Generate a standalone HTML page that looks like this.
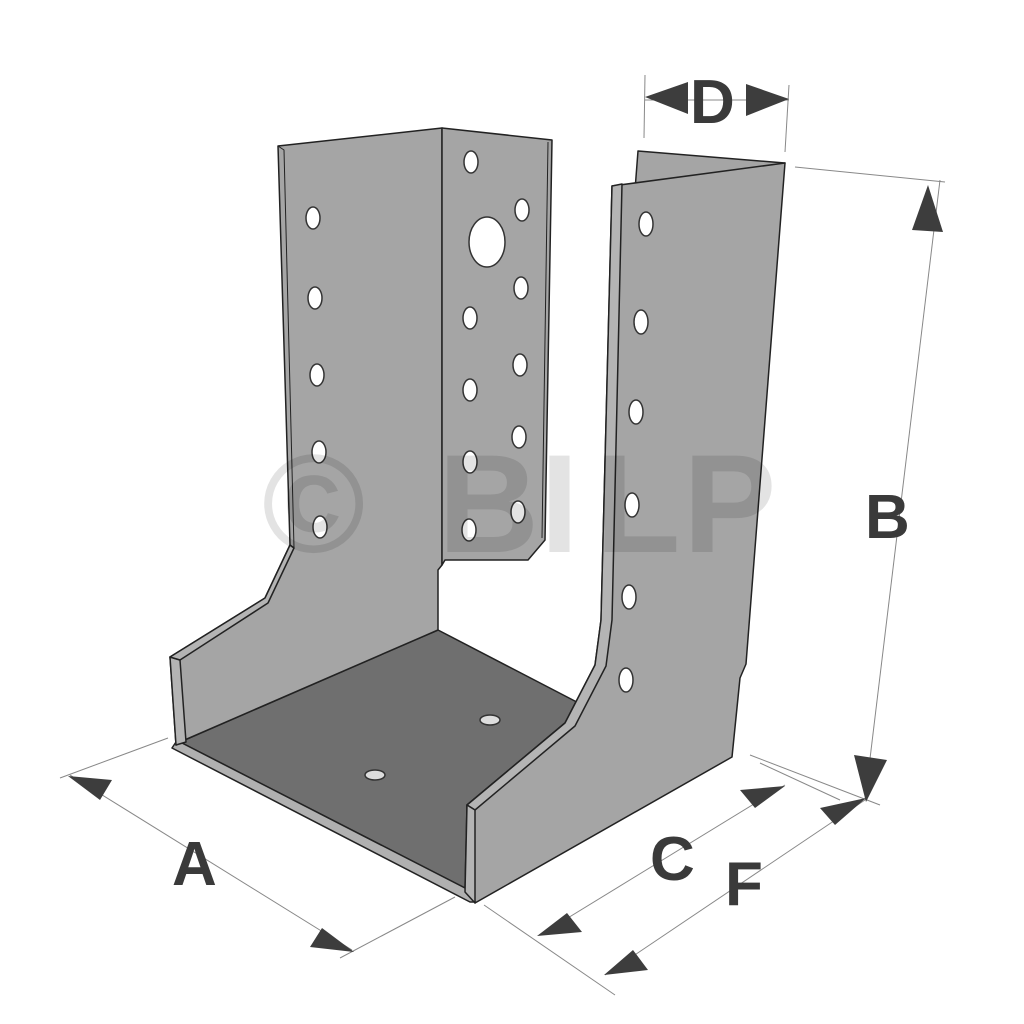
<!DOCTYPE html>
<html><head><meta charset="utf-8"><style>html,body{margin:0;padding:0;background:#fff}svg{display:block}</style></head>
<body>
<svg width="1024" height="1024" viewBox="0 0 1024 1024" xmlns="http://www.w3.org/2000/svg">
<g stroke="#222" stroke-width="1.5" stroke-linejoin="round">
<!-- floor -->
<polygon points="438,630 596,712 565,723 467,805 465,888 180,742" fill="#6f6f6f"/>
<!-- front lip strip -->
<polygon points="176,742 180,742 465,888 475,902 470,902 172,748" fill="#b0b0b0"/>
<!-- left wall -->
<polygon points="278,146 442,128 442,565 438,570 438,630 180,742 176,745 170,657 265,598 290,545" fill="#a5a5a5"/>
<polygon points="170,657 180,660 186,742 176,745" fill="#b4b4b4"/>
<polygon points="170,657 265,598 290,545 294,548 268,603 180,660" fill="#b4b4b4"/>
<polyline points="278,146 284,150 294,548" fill="none" stroke-width="1"/>
<!-- flap -->
<polygon points="442,128 552,140 545,540 528,560 445,560 442,565" fill="#a5a5a5"/>
<polyline points="548,142 542,538" fill="none" stroke-width="1"/>
<!-- right wall back flap -->
<polygon points="638,151 785,163 770,166 635,190" fill="#a5a5a5"/>
<!-- right wall -->
<polygon points="612,186 785,163 746,664 740,678 732,757 475,903 467,805 565,723 595,665 601,620" fill="#a5a5a5"/>
<polygon points="612,186 622,184 612,620 606,666 575,726 475,810 467,805 565,723 595,665 601,620" fill="#b4b4b4"/>
<polygon points="467,805 475,810 475,903 465,892" fill="#b4b4b4"/>
</g>
<!-- holes -->
<g fill="#fff" stroke="#333" stroke-width="1.5">
<ellipse cx="313" cy="218" rx="7" ry="11"/><ellipse cx="315" cy="298" rx="7" ry="11"/><ellipse cx="317" cy="375" rx="7" ry="11"/><ellipse cx="319" cy="452" rx="7" ry="11"/><ellipse cx="320" cy="527" rx="7" ry="11"/>
<ellipse cx="471" cy="162" rx="7" ry="11"/><ellipse cx="522" cy="210" rx="7" ry="11"/><ellipse cx="487" cy="242" rx="18" ry="25"/><ellipse cx="521" cy="288" rx="7" ry="11"/><ellipse cx="470" cy="318" rx="7" ry="11"/><ellipse cx="520" cy="365" rx="7" ry="11"/><ellipse cx="470" cy="390" rx="7" ry="11"/><ellipse cx="519" cy="437" rx="7" ry="11"/><ellipse cx="470" cy="462" rx="7" ry="11"/><ellipse cx="518" cy="512" rx="7" ry="11"/><ellipse cx="469" cy="530" rx="7" ry="11"/>
<ellipse cx="646" cy="224" rx="7" ry="12"/><ellipse cx="641" cy="322" rx="7" ry="12"/><ellipse cx="636" cy="412" rx="7" ry="12"/><ellipse cx="632" cy="505" rx="7" ry="12"/><ellipse cx="629" cy="597" rx="7" ry="12"/><ellipse cx="626" cy="680" rx="7" ry="12"/>
<ellipse cx="490" cy="720" rx="10" ry="5" fill="#ddd"/><ellipse cx="375" cy="775" rx="10" ry="5" fill="#ddd"/>
</g>
<!-- watermark -->
<g font-family="Liberation Sans, sans-serif" font-weight="bold" font-size="140" fill="#000" fill-opacity="0.11">
<text x="262" y="552">©</text><text x="438" y="552">B</text><text x="540" y="552">I</text><text x="595" y="552">L</text><text x="683" y="552">P</text>
</g>
<!-- dimension lines -->
<g stroke="#888" stroke-width="1" fill="none">
<line x1="645" y1="75" x2="644" y2="138"/><line x1="789" y1="85" x2="785" y2="152"/><line x1="645" y1="100" x2="789" y2="100"/>
<line x1="795" y1="167" x2="945" y2="182"/><line x1="940" y1="180" x2="865" y2="800"/><line x1="750" y1="755" x2="880" y2="805"/><line x1="760" y1="763" x2="840" y2="800"/>
<line x1="60" y1="778" x2="168" y2="738"/><line x1="70" y1="775" x2="352" y2="950"/><line x1="340" y1="958" x2="455" y2="897"/>
<line x1="484" y1="905" x2="615" y2="995"/><line x1="540" y1="935" x2="785" y2="785"/><line x1="605" y1="975" x2="865" y2="800"/>
</g>
<g fill="#3d3d3d">
<polygon points="645,97 688,82 688,114"/><polygon points="789,99 746,84 746,116"/>
<polygon points="928,185 912,230 943,232"/><polygon points="866,802 854,755 887,760"/>
<polygon points="68,776 112,780 100,800"/><polygon points="354,952 310,947 322,928"/>
<polygon points="785,786 740,790 755,808"/><polygon points="537,936 582,932 567,913"/>
<polygon points="866,798 820,808 835,825"/><polygon points="604,975 648,970 633,950"/>
</g>
<g font-family="Liberation Sans, sans-serif" font-weight="bold" fill="#3a3a3a" font-size="62">
<text x="690" y="123">D</text>
<text x="865" y="538">B</text>
<text x="172" y="885">A</text>
<text x="650" y="880">C</text>
<text x="725" y="905">F</text>
</g>
</svg>
</body></html>
